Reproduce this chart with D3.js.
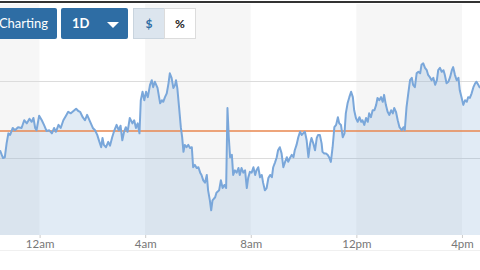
<!DOCTYPE html>
<html>
<head>
<meta charset="utf-8">
<script src="https://cdn.jsdelivr.net/npm/d3@7"></script>
<style>
  html, body { margin: 0; padding: 0; background: #fff; }
  svg { display: block; font-family: Lato, "Open Sans", sans-serif; }
</style>
</head>
<body>
<div id="chart"></div>
<script>
// intraday quotes, 22:30 -> 16:41 next day
var times = ["22:30","22:34","22:37","22:41","22:45","22:49","22:53","22:59","23:04","23:11",
  "23:19","23:25","23:31","23:37","23:42","23:46","23:50","23:53","23:59","00:05",
  "00:10","00:16","00:22","00:28","00:33","00:37","00:43","00:48","00:54","01:00",
  "01:05","01:11","01:17","01:23","01:28","01:32","01:38","01:43","01:48","01:55",
  "02:01","02:06","02:11","02:16","02:20","02:23","02:26","02:31","02:36","02:40",
  "02:45","02:50","02:55","03:00","03:04","03:08","03:12","03:16","03:20","03:25",
  "03:31","03:35","03:39","03:43","03:47","03:50","03:54","03:58","04:02","04:06",
  "04:11","04:15","04:18","04:22","04:28","04:34","04:38","04:41","04:45","04:49",
  "04:53","04:56","05:00","05:04","05:08","05:10","05:13","05:17","05:21","05:24",
  "05:27","05:30","05:34","05:38","05:42","05:46","05:49","05:53","05:57","06:01",
  "06:05","06:08","06:12","06:16","06:20","06:23","06:27","06:30","06:33","06:39",
  "06:42","06:48","06:52","06:56","07:00","07:04","07:07","07:10","07:13","07:17",
  "07:20","07:24","07:28","07:32","07:35","07:39","07:43","07:47","07:51","07:54",
  "07:58","08:02","08:06","08:10","08:13","08:17","08:21","08:25","08:28","08:32",
  "08:36","08:40","08:44","08:48","08:51","08:55","08:59","09:02","09:06","09:10",
  "09:14","09:18","09:22","09:25","09:29","09:33","09:37","09:40","09:44","09:48",
  "09:52","09:56","09:59","10:03","10:07","10:11","10:15","10:18","10:22","10:26",
  "10:30","10:33","10:37","10:41","10:43","10:47","10:51","10:55","10:58","11:02",
  "11:06","11:10","11:14","11:18","11:21","11:25","11:29","11:33","11:36","11:40",
  "11:44","11:48","11:52","11:55","11:59","12:03","12:07","12:11","12:14","12:18",
  "12:22","12:26","12:29","12:33","12:37","12:41","12:45","12:48","12:52","12:56",
  "13:00","13:03","13:07","13:11","13:15","13:19","13:23","13:26","13:30","13:34",
  "13:38","13:43","13:47","13:50","13:54","13:58","14:02","14:06","14:09","14:13",
  "14:17","14:21","14:25","14:28","14:32","14:36","14:40","14:43","14:47","14:51",
  "14:55","14:59","15:03","15:06","15:10","15:14","15:18","15:21","15:25","15:29",
  "15:33","15:37","15:40","15:44","15:48","15:52","15:55","15:59","16:03","16:07",
  "16:11","16:14","16:18","16:22","16:26","16:30","16:33","16:37","16:41"];

var prices = [101.0,100.4,100.0,100.1,101.9,103.2,103.0,103.9,103.6,104.0,
  103.9,104.9,104.5,105.1,104.7,105.2,103.9,103.6,105.5,104.9,
  104.3,103.5,103.6,103.2,103.9,103.4,104.3,103.9,104.9,105.5,
  106.0,105.8,106.1,106.4,106.1,106.0,105.3,104.9,105.6,104.7,
  103.9,103.6,103.0,102.1,101.4,102.6,101.7,101.4,102.1,101.6,
  102.7,103.6,104.3,103.6,104.2,102.3,103.4,104.0,103.4,105.2,
  104.5,104.9,103.9,104.5,103.2,107.5,108.6,107.5,108.6,107.9,
  109.5,110.1,109.2,109.9,109.1,107.1,107.5,107.3,107.9,108.4,
  109.7,111.0,110.4,109.1,109.5,110.1,109.1,106.6,104.0,102.7,
  100.8,101.7,101.4,101.7,101.3,101.4,98.8,99.1,98.7,98.8,
  98.1,97.8,97.1,96.8,97.8,95.8,94.5,93.2,94.5,94.9,
  95.5,95.8,97.1,96.1,96.5,96.1,106.5,102.7,100.1,100.4,
  97.8,98.4,98.1,98.7,97.8,98.7,98.1,98.4,96.1,97.4,
  98.2,98.1,98.8,97.8,98.4,98.8,97.5,97.8,96.8,95.8,
  96.1,97.4,97.8,97.5,98.8,99.4,100.1,101.0,101.4,100.6,
  98.8,99.5,100.1,99.5,100.0,100.4,100.1,101.0,101.7,102.7,
  103.4,103.0,103.2,103.4,102.3,100.1,101.9,102.6,101.9,101.0,
  102.6,103.0,103.0,101.9,100.8,100.6,100.6,100.4,100.1,99.5,
  101.4,104.0,104.3,105.3,104.5,104.3,102.7,103.2,105.8,107.1,
  107.9,108.6,107.9,106.2,105.2,104.7,105.3,104.7,104.9,104.3,
  105.2,104.7,105.8,105.3,106.2,106.2,106.9,107.8,107.5,107.9,
  107.3,108.2,106.9,106.0,105.6,106.2,105.8,106.5,106.0,104.9,
  104.0,103.6,104.0,103.6,106.6,108.4,110.1,110.4,109.5,109.2,
  111.0,111.2,111.0,112.1,112.3,111.7,111.4,110.8,110.5,110.1,
  110.4,109.5,110.1,111.4,111.7,111.2,111.4,110.8,109.7,109.9,
  110.5,111.4,111.8,110.8,110.1,110.4,108.8,107.9,106.9,107.5,
  107.3,107.9,107.8,108.4,109.2,109.7,109.9,109.5,109.1];

var prevClose = 103.5;
var gridValues = [100, 110];
var tickTimes = ["00:00", "04:00", "08:00", "12:00", "16:00"];
var rangeStart = "22:30", rangeEnd = "16:41";

function toDate(s){
    var p = s.split(":").map(Number);
    return new Date(2024, 0, p[0] >= 22 ? 1 : 2, p[0], p[1]);
}

var data = times.map(function(t, i){ return {t: toDate(t), v: prices[i]}; });

var width = 480, height = 270;
var plotTop = 4, plotBottom = 235;

var svg = d3.select("#chart").append("svg").attr("width", width).attr("height", height);

var x = d3.scaleTime().domain([toDate(rangeStart), toDate(rangeEnd)]).range([0, width]);
var y = d3.scaleLinear().domain([90, 120]).range([plotBottom, plotTop]);

// alternating time bands
var edges = [toDate(rangeStart)].concat(tickTimes.map(toDate)).concat([toDate(rangeEnd)]);
var bands = d3.pairs(edges);
svg.append("g").selectAll("rect").data(bands).enter().append("rect")
    .attr("x", function(d){ return x(d[0]); })
    .attr("width", function(d){ return x(d[1]) - x(d[0]); })
    .attr("y", plotTop).attr("height", plotBottom - plotTop)
    .attr("fill", function(d, i){ return i % 2 == 0 ? "#f6f6f6" : "#ffffff"; });

// top rule
svg.append("rect").attr("x", 0).attr("y", 1).attr("width", width).attr("height", 2).attr("fill", "#333");

// grid
svg.append("g").selectAll("line").data(gridValues).enter().append("line")
    .attr("x1", 0).attr("x2", width)
    .attr("y1", function(d){ return y(d) + 0.5; }).attr("y2", function(d){ return y(d) + 0.5; })
    .attr("stroke", "#dcdcdc").attr("stroke-width", 1);

svg.append("defs").append("clipPath").attr("id", "plot")
    .append("rect").attr("x", 0).attr("y", plotTop).attr("width", width).attr("height", plotBottom - plotTop);

var plot = svg.append("g").attr("clip-path", "url(#plot)");

var area = d3.area().x(function(d){ return x(d.t); }).y0(y(90)).y1(function(d){ return y(d.v); });
var line = d3.line().x(function(d){ return x(d.t); }).y(function(d){ return y(d.v); });

plot.append("path").datum(data).attr("d", area).attr("fill", "rgba(120,165,210,0.22)");

// previous close
plot.append("line").attr("x1", 0).attr("x2", width)
    .attr("y1", y(prevClose)).attr("y2", y(prevClose))
    .attr("stroke", "#e8874f").attr("stroke-width", 1.5);

plot.append("path").datum(data).attr("d", line)
    .attr("fill", "none").attr("stroke", "#7aa7da").attr("stroke-width", 2)
    .attr("stroke-linejoin", "round");

// x axis
var fmtHour = d3.timeFormat("%-I");
var xAxis = d3.axisBottom(x).tickValues(tickTimes.map(toDate))
    .tickSize(3).tickPadding(2)
    .tickFormat(function(d){ return fmtHour(d) + (d.getHours() < 12 ? "am" : "pm"); });
var ax = svg.append("g").attr("transform", "translate(0," + plotBottom + ")").call(xAxis);
ax.select(".domain").remove();
ax.selectAll(".tick line").attr("stroke", "#ccc");
ax.selectAll(".tick text").attr("fill", "#777").attr("font-size", 11.5)
    .attr("font-family", "Lato, sans-serif");

svg.append("line").attr("x1", 0).attr("x2", width).attr("y1", 250.5).attr("y2", 250.5)
    .attr("stroke", "#f0f0f0");

// toolbar buttons
var bar = svg.append("g");
bar.append("rect").attr("x", -10).attr("y", 8).attr("width", 67).attr("height", 31).attr("rx", 2).attr("fill", "#2e6da4");
bar.append("text").attr("x", 23.5).attr("y", 28).attr("text-anchor", "middle")
    .attr("fill", "#fff").attr("font-size", 13).text("Charting");

bar.append("rect").attr("x", 61).attr("y", 8).attr("width", 67).attr("height", 31).attr("rx", 2).attr("fill", "#2e6da4");
bar.append("text").attr("x", 72).attr("y", 28).attr("fill", "#fff")
    .attr("font-size", 13).attr("font-weight", "bold").text("1D");
bar.append("path").attr("d", "M107,22L119,22L113,28Z").attr("fill", "#fff");

bar.append("rect").attr("x", 133.5).attr("y", 8.5).attr("width", 31).attr("height", 30).attr("fill", "#dce5ee").attr("stroke", "#c9d4de");
bar.append("text").attr("x", 149).attr("y", 28).attr("text-anchor", "middle")
    .attr("fill", "#2e6da4").attr("font-size", 12).attr("font-weight", "bold").text("$");
bar.append("rect").attr("x", 164.5).attr("y", 8.5).attr("width", 31).attr("height", 30).attr("fill", "#fff").attr("stroke", "#dcdcdc");
bar.append("text").attr("x", 180).attr("y", 28).attr("text-anchor", "middle")
    .attr("fill", "#222").attr("font-size", 12).attr("font-weight", "bold").text("%");
</script>
</body>
</html>
